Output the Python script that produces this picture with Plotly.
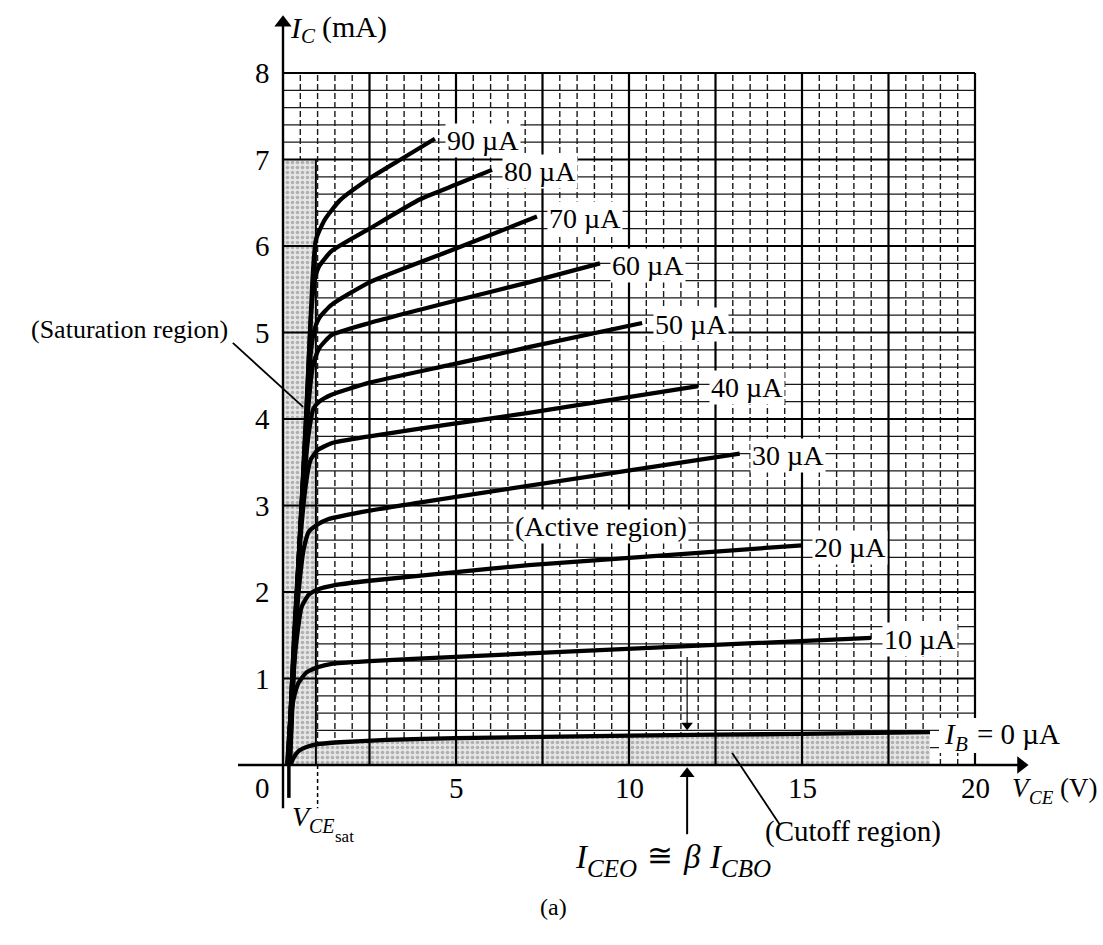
import plotly.graph_objects as go

# ---------------- data ----------------
x_tick_vals = [5, 10, 15, 20]
x_tick_text = ["5", "10", "15", "20"]
y_tick_vals = [1, 2, 3, 4, 5, 6, 7, 8]

ib_names = ["IB0", "10 µA", "20 µA", "30 µA", "40 µA",
            "50 µA", "60 µA", "70 µA", "80 µA", "90 µA"]

v_ib0 = [0.22, 0.3, 0.45, 0.7, 1.0, 1.5, 3.0, 5.0, 10.0, 15.0, 18.7]
i_ib0 = [0.0, 0.08, 0.16, 0.21, 0.24, 0.26, 0.29, 0.31, 0.34, 0.36, 0.38]

v_ib10 = [0.12, 0.2, 0.3, 0.45, 0.68, 1.0, 1.4, 2.5, 5.0, 7.1, 17.0]
i_ib10 = [0.0, 0.45, 0.75, 0.95, 1.07, 1.13, 1.17, 1.2, 1.25, 1.29, 1.47]

v_ib20 = [0.13, 0.25, 0.38, 0.54, 0.75, 1.0, 1.5, 2.5, 5.0, 7.1, 15.0]
i_ib20 = [0.0, 0.8, 1.4, 1.83, 1.97, 2.03, 2.08, 2.13, 2.23, 2.31, 2.54]

v_ib30 = [0.14, 0.28, 0.45, 0.6, 0.75, 1.0, 1.3, 2.5, 5.0, 13.2]
i_ib30 = [0.0, 1.1, 2.0, 2.5, 2.7, 2.78, 2.84, 2.94, 3.1, 3.6]

v_ib40 = [0.15, 0.3, 0.5, 0.68, 0.8, 1.0, 1.4, 2.5, 5.0, 7.1, 12.0]
i_ib40 = [0.0, 1.3, 2.6, 3.3, 3.53, 3.64, 3.72, 3.8, 3.95, 4.07, 4.38]

v_ib50 = [0.16, 0.32, 0.55, 0.75, 0.88, 1.05, 1.4, 2.5, 5.0, 7.1, 10.38]
i_ib50 = [0.0, 1.5, 3.0, 3.85, 4.12, 4.2, 4.28, 4.42, 4.64, 4.83, 5.11]

v_ib60 = [0.17, 0.35, 0.6, 0.78, 0.88, 1.05, 1.4, 2.5, 5.0, 7.1, 9.16]
i_ib60 = [0.0, 1.6, 3.4, 4.35, 4.65, 4.82, 4.97, 5.11, 5.37, 5.58, 5.8]

v_ib70 = [0.18, 0.36, 0.62, 0.8, 0.9, 1.05, 1.4, 2.5, 5.0, 7.34]
i_ib70 = [0.0, 1.7, 3.6, 4.75, 5.02, 5.17, 5.32, 5.58, 5.97, 6.34]

v_ib80 = [0.19, 0.38, 0.65, 0.82, 0.92, 1.05, 1.4, 2.5, 3.96, 5.0, 6.04]
i_ib80 = [0.0, 1.8, 3.9, 5.25, 5.62, 5.77, 5.94, 6.2, 6.54, 6.71, 6.88]

v_ib90 = [0.2, 0.4, 0.68, 0.85, 0.95, 1.2, 1.65, 2.5, 3.4, 4.39]
i_ib90 = [0.0, 1.9, 4.1, 5.6, 6.07, 6.3, 6.53, 6.78, 7.0, 7.24]

curves_v = [v_ib0, v_ib10, v_ib20, v_ib30, v_ib40, v_ib50, v_ib60, v_ib70, v_ib80, v_ib90]
curves_i = [i_ib0, i_ib10, i_ib20, i_ib30, i_ib40, i_ib50, i_ib60, i_ib70, i_ib80, i_ib90]

v_sat_edge = 0.95      # right edge of saturation shading
i_sat_top = 7.0        # top of saturation shading
v_iceo = 11.68         # position of I_CEO arrows

# ---------------- layout helpers ----------------
X0, SX = 283.0, 34.6   # pixel of V=0, pixels per volt
Y0, SY = 765.0, 86.5   # pixel of I=0, pixels per mA
W, H = 1103, 945
FONT = "Liberation Serif, Times New Roman, serif"
BLACK = "#000000"


def pv(px):
    return (px - X0) / SX


def pi(py):
    return (Y0 - py) / SY


fig = go.Figure()

# grid lines
minor_v = [k * 0.5 for k in range(1, 41) if k % 5 != 0]
minor_h = [k * 0.2 for k in range(1, 40) if k % 5 != 0]
major_v = [k * 2.5 for k in range(1, 9)]
major_h = [float(k) for k in range(1, 9)]


def vlines(xs, y0, y1):
    X, Y = [], []
    for x in xs:
        X += [x, x, None]
        Y += [y0, y1, None]
    return X, Y


def hlines(ys, x0, x1):
    X, Y = [], []
    for y in ys:
        X += [x0, x1, None]
        Y += [y, y, None]
    return X, Y


def line_trace(X, Y, width, dash="solid", color=BLACK):
    fig.add_trace(go.Scatter(x=X, y=Y, mode="lines", hoverinfo="skip",
                             line=dict(color=color, width=width, dash=dash)))


gx, gy = hlines(minor_h, 0, 20)
line_trace(gx, gy, 1.3, color="#1a1a1a")
gx, gy = vlines(minor_v, 0, 8)
line_trace(gx, gy, 1.4, dash="6px,3px", color="#1a1a1a")

# shaded regions (saturation + cutoff)
pat = dict(shape=".", fgcolor="#7a7a7a", bgcolor="#e6e6e6", size=5, solidity=0.4)
fig.add_trace(go.Scatter(x=[0, v_sat_edge, v_sat_edge, 0, 0], y=[0, 0, i_sat_top, i_sat_top, 0],
                         fill="toself", mode="lines", line=dict(width=0), fillpattern=pat,
                         hoverinfo="skip"))
fig.add_trace(go.Scatter(x=[0] + v_ib0 + [v_ib0[-1], 0], y=[0] + i_ib0 + [0, 0],
                         fill="toself", mode="lines", line=dict(width=0), fillpattern=pat,
                         hoverinfo="skip"))

# major grid
gx, gy = hlines(major_h, 0, 20)
line_trace(gx, gy, 2.2)
gx, gy = vlines(major_v, 0, 8)
line_trace(gx, gy, 2.2)
line_trace([v_sat_edge, v_sat_edge], [0, i_sat_top], 2.0)

# axes lines and the auxiliary marks
line_trace([-1.3, 21.35], [0, 0], 2.4)
line_trace([0, 0], [-0.5, 8.55], 2.4)
line_trace([0.17, 0.17], [0, -0.38], 3.5)
line_trace([1.0, 1.0], [0, -0.5], 1.5, dash="4px,3px")
line_trace([v_iceo, v_iceo], [-0.8, -0.12], 2.0)
line_trace([v_iceo, v_iceo], [1.25, 0.47], 1.2)
line_trace([-1.45, 0.58], [4.88, 4.14], 1.8)
line_trace([14.36, 12.98], [-0.69, 0.14], 1.8)

# arrow heads
fig.add_trace(go.Scatter(x=[21.33], y=[0], mode="markers", hoverinfo="skip",
                         marker=dict(symbol="triangle-right", size=15, color=BLACK)))
fig.add_trace(go.Scatter(x=[0], y=[8.58], mode="markers", hoverinfo="skip",
                         marker=dict(symbol="triangle-up", size=15, color=BLACK)))
fig.add_trace(go.Scatter(x=[v_iceo], y=[-0.1], mode="markers", hoverinfo="skip",
                         marker=dict(symbol="triangle-up", size=13, color=BLACK)))
fig.add_trace(go.Scatter(x=[v_iceo], y=[0.46], mode="markers", hoverinfo="skip",
                         marker=dict(symbol="triangle-down", size=10, color=BLACK)))

# characteristic curves
for vv, ii in zip(curves_v, curves_i):
    fig.add_trace(go.Scatter(x=vv, y=ii, mode="lines", hoverinfo="skip",
                             line=dict(color=BLACK, width=4.3, shape="spline", smoothing=0.5)))

ann = []
shapes = []


def text(x, y, s, size=28, xanchor="center", yanchor="middle", bg=None, pad=1, italic=False):
    f = dict(family=FONT, size=size, color=BLACK)
    if italic:
        f["style"] = "italic"
    d = dict(x=x, y=y, xref="x", yref="y", text=s, showarrow=False,
             xanchor=xanchor, yanchor=yanchor, font=f)
    if bg:
        d.update(bgcolor=bg, borderpad=pad)
    ann.append(d)


def ptext(px, py, s, size, italic=False, xanchor="left"):
    text(pv(px), pi(py), s, size=size, xanchor=xanchor, italic=italic)


# curve labels
for name, vv, ii in zip(ib_names, curves_v, curves_i):
    if name == "IB0":
        continue
    text(vv[-1] + 0.3, ii[-1] - 0.02, name, size=28, xanchor="left", bg="white")

# I_B = 0 uA label (white box + pieces)
shapes.append(dict(type="rect", xref="x", yref="y", layer="above",
                   x0=pv(939), x1=pv(1066), y0=pi(753), y1=pi(718),
                   fillcolor="white", line=dict(width=0)))
ptext(942, 734, "I", 29, italic=True)
ptext(953, 744, "B", 21, italic=True)
ptext(975, 734, "= 0 µA", 29)

# tick labels
for v, t in zip(x_tick_vals, x_tick_text):
    text(v, -0.27, t, size=29)
for v in y_tick_vals:
    text(-0.58, v, str(v), size=29)
text(-0.58, -0.27, "0", size=29)

# axis titles
ptext(288, 27, "I", 30, italic=True)
ptext(299, 36, "C", 21, italic=True)
ptext(320, 27, "(mA)", 30)

ptext(1010, 788, "V", 27, italic=True)
ptext(1027, 797, "CE", 19, italic=True)
ptext(1058, 788, "(V)", 27)

ptext(290, 816, "V", 28, italic=True)
ptext(307, 826, "CE", 20, italic=True)
ptext(333, 836, "sat", 17)

# region labels
text(9.19, 2.76, "(Active region)", size=28, bg="white")
text(-1.53, 5.04, "(Saturation region)", size=26, xanchor="right")
text(13.87, -0.77, "(Cutoff region)", size=29, xanchor="left")

ptext(573, 857, "I", 33, italic=True)
ptext(585, 868, "CEO", 25, italic=True)
ptext(645, 855, "≅", 31)
ptext(681, 857, "β", 33, italic=True)
ptext(707, 857, "I", 33, italic=True)
ptext(719, 868, "CBO", 25, italic=True)

ptext(553, 907, "(a)", 24, xanchor="center")

fig.update_layout(
    width=W, height=H, margin=dict(l=0, r=0, t=0, b=0),
    paper_bgcolor="white", plot_bgcolor="white", showlegend=False,
    xaxis=dict(range=[-X0 / SX, (W - X0) / SX], visible=False, fixedrange=True),
    yaxis=dict(range=[(Y0 - H) / SY, Y0 / SY], visible=False, fixedrange=True),
    annotations=ann, shapes=shapes,
)

fig.write_html("out.html", config={"displayModeBar": False},
               post_script="document.body.style.margin='0';document.body.style.overflow='hidden';")
